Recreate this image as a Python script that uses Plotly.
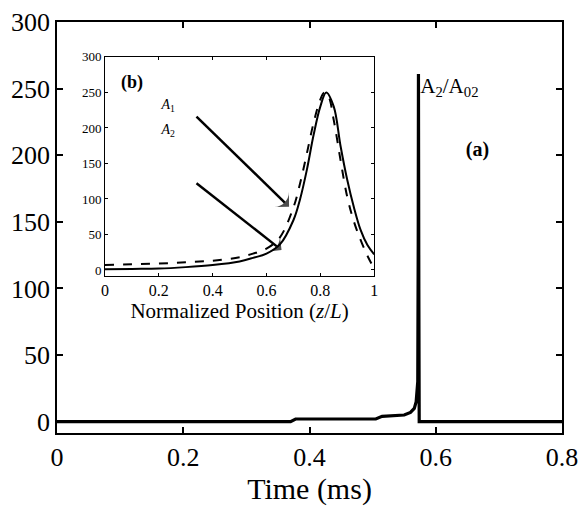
import plotly.graph_objects as go

# Main panel (a): A2/A02 versus time
time_ms = [0, 0.37, 0.378, 0.505, 0.515, 0.55, 0.56, 0.566, 0.569, 0.5715, 0.5722, 0.5726, 0.5732, 0.5738, 0.8]
amp_ratio = [0, 0, 2, 2, 4, 5, 7, 10, 15, 30, 130, 261, 100, 0, 0]

# Inset panel (b): A1 (dashed) and A2 (solid) versus normalized position
z_a1 = [0, 0.1, 0.2, 0.3, 0.4, 0.5, 0.55, 0.6, 0.65, 0.7, 0.725, 0.75, 0.775, 0.8, 0.815, 0.83, 0.85, 0.875, 0.9, 0.925, 0.95, 0.975, 1.0]
a1_vals = [7, 8, 9, 11, 13, 18, 23, 30, 46, 88, 122, 164, 207, 240, 250, 245, 211, 155, 103, 68, 42, 20, 2]
z_a2 = [0, 0.1, 0.2, 0.3, 0.4, 0.5, 0.55, 0.6, 0.65, 0.7, 0.725, 0.75, 0.775, 0.8, 0.822, 0.85, 0.875, 0.9, 0.925, 0.95, 0.975, 1.0]
a2_vals = [1, 1.5, 2, 4, 7, 12, 17, 23, 36, 70, 100, 141, 190, 230, 250, 230, 175, 127, 88, 56, 35, 22]

# Pointer arrows in the inset (tail -> tip, inset data units)
arrow_a1_x = [0.34, 0.684]
arrow_a1_y = [216, 89]
arrow_a2_x = [0.34, 0.656]
arrow_a2_y = [122, 28]

main_xticks = [0, 0.2, 0.4, 0.6, 0.8]
main_yticks = [0, 50, 100, 150, 200, 250, 300]
inset_xticks = [0, 0.2, 0.4, 0.6, 0.8, 1]
inset_yticks = [0, 50, 100, 150, 200, 250, 300]

FONT = "Liberation Serif, Times New Roman, serif"

fig = go.Figure()
fig.add_trace(go.Scatter(x=time_ms, y=amp_ratio, mode="lines",
                         line=dict(color="black", width=3.2), xaxis="x", yaxis="y",
                         showlegend=False, hoverinfo="skip"))
fig.add_trace(go.Scatter(x=z_a1, y=a1_vals, mode="lines", line_shape="spline",
                         line=dict(color="black", width=2, dash="dash"), xaxis="x2", yaxis="y2",
                         showlegend=False))
fig.add_trace(go.Scatter(x=z_a2, y=a2_vals, mode="lines", line_shape="spline",
                         line=dict(color="black", width=2), xaxis="x2", yaxis="y2",
                         showlegend=False))

# arrows drawn as line + arrow-head marker
for ax_, ay_ in [(arrow_a1_x, arrow_a1_y), (arrow_a2_x, arrow_a2_y)]:
    fig.add_trace(go.Scatter(x=ax_, y=ay_, mode="lines+markers", xaxis="x2", yaxis="y2",
                             line=dict(color="black", width=2.5),
                             marker=dict(symbol="arrow-wide", size=[0, 15], color="black",
                                         angleref="previous", line=dict(width=0)),
                             showlegend=False, hoverinfo="skip"))

# text labels as text traces
fig.add_trace(go.Scatter(x=[0.5755], y=[251], mode="text", text=["A<sub>2</sub>/A<sub>02</sub>"],
                         textposition="middle right", textfont=dict(size=21, family=FONT, color="black"),
                         xaxis="x", yaxis="y", showlegend=False, hoverinfo="skip"))
fig.add_trace(go.Scatter(x=[0.666], y=[203], mode="text", text=["<b>(a)</b>"],
                         textposition="middle center", textfont=dict(size=20, family=FONT, color="black"),
                         xaxis="x", yaxis="y", showlegend=False, hoverinfo="skip"))
fig.add_trace(go.Scatter(x=[0.1], y=[263], mode="text", text=["<b>(b)</b>"],
                         textposition="middle center", textfont=dict(size=18, family=FONT, color="black"),
                         xaxis="x2", yaxis="y2", showlegend=False, hoverinfo="skip"))
fig.add_trace(go.Scatter(x=[0.235, 0.235], y=[232, 197], mode="text",
                         text=["<i>A</i><sub>1</sub>", "<i>A</i><sub>2</sub>"],
                         textposition="middle center", textfont=dict(size=14, family=FONT, color="black"),
                         xaxis="x2", yaxis="y2", showlegend=False, hoverinfo="skip"))

axis_common = dict(showgrid=False, zeroline=False, showline=True, linecolor="black",
                   linewidth=1, mirror="ticks", ticks="inside", tickcolor="black",
                   automargin=False)
main_axis = dict(axis_common, linewidth=1.5, tickwidth=1.5)

fig.update_layout(
    width=581, height=508, autosize=False,
    margin=dict(l=57, r=19, t=22, b=75, autoexpand=False),
    paper_bgcolor="white", plot_bgcolor="rgba(0,0,0,0)",
    font=dict(family=FONT, color="black"),
    xaxis=dict(**main_axis, domain=[0, 1], range=[0, 0.8], tickvals=main_xticks,
               ticklen=6, tickfont=dict(size=26, family=FONT),
               title=dict(text="Time (ms)", font=dict(size=30, family=FONT), standoff=6)),
    yaxis=dict(**main_axis, domain=[0, 1], range=[-8.5, 300], tickvals=main_yticks,
               ticklen=6, tickfont=dict(size=26, family=FONT)),
    xaxis2=dict(**axis_common, domain=[0.095, 0.628], range=[0, 1], anchor="y2",
                tickvals=inset_xticks, ticklen=3,
                tickfont=dict(size=16, family=FONT),
                title=dict(text="Normalized Position (<i>z</i>/<i>L</i>)",
                           font=dict(size=21, family=FONT), standoff=2)),
    yaxis2=dict(**axis_common, domain=[0.382, 0.915], range=[-8.5, 300], anchor="x2",
                tickvals=inset_yticks, ticklen=3, tickfont=dict(size=13, family=FONT)),
)

fig.write_html("out.html")
